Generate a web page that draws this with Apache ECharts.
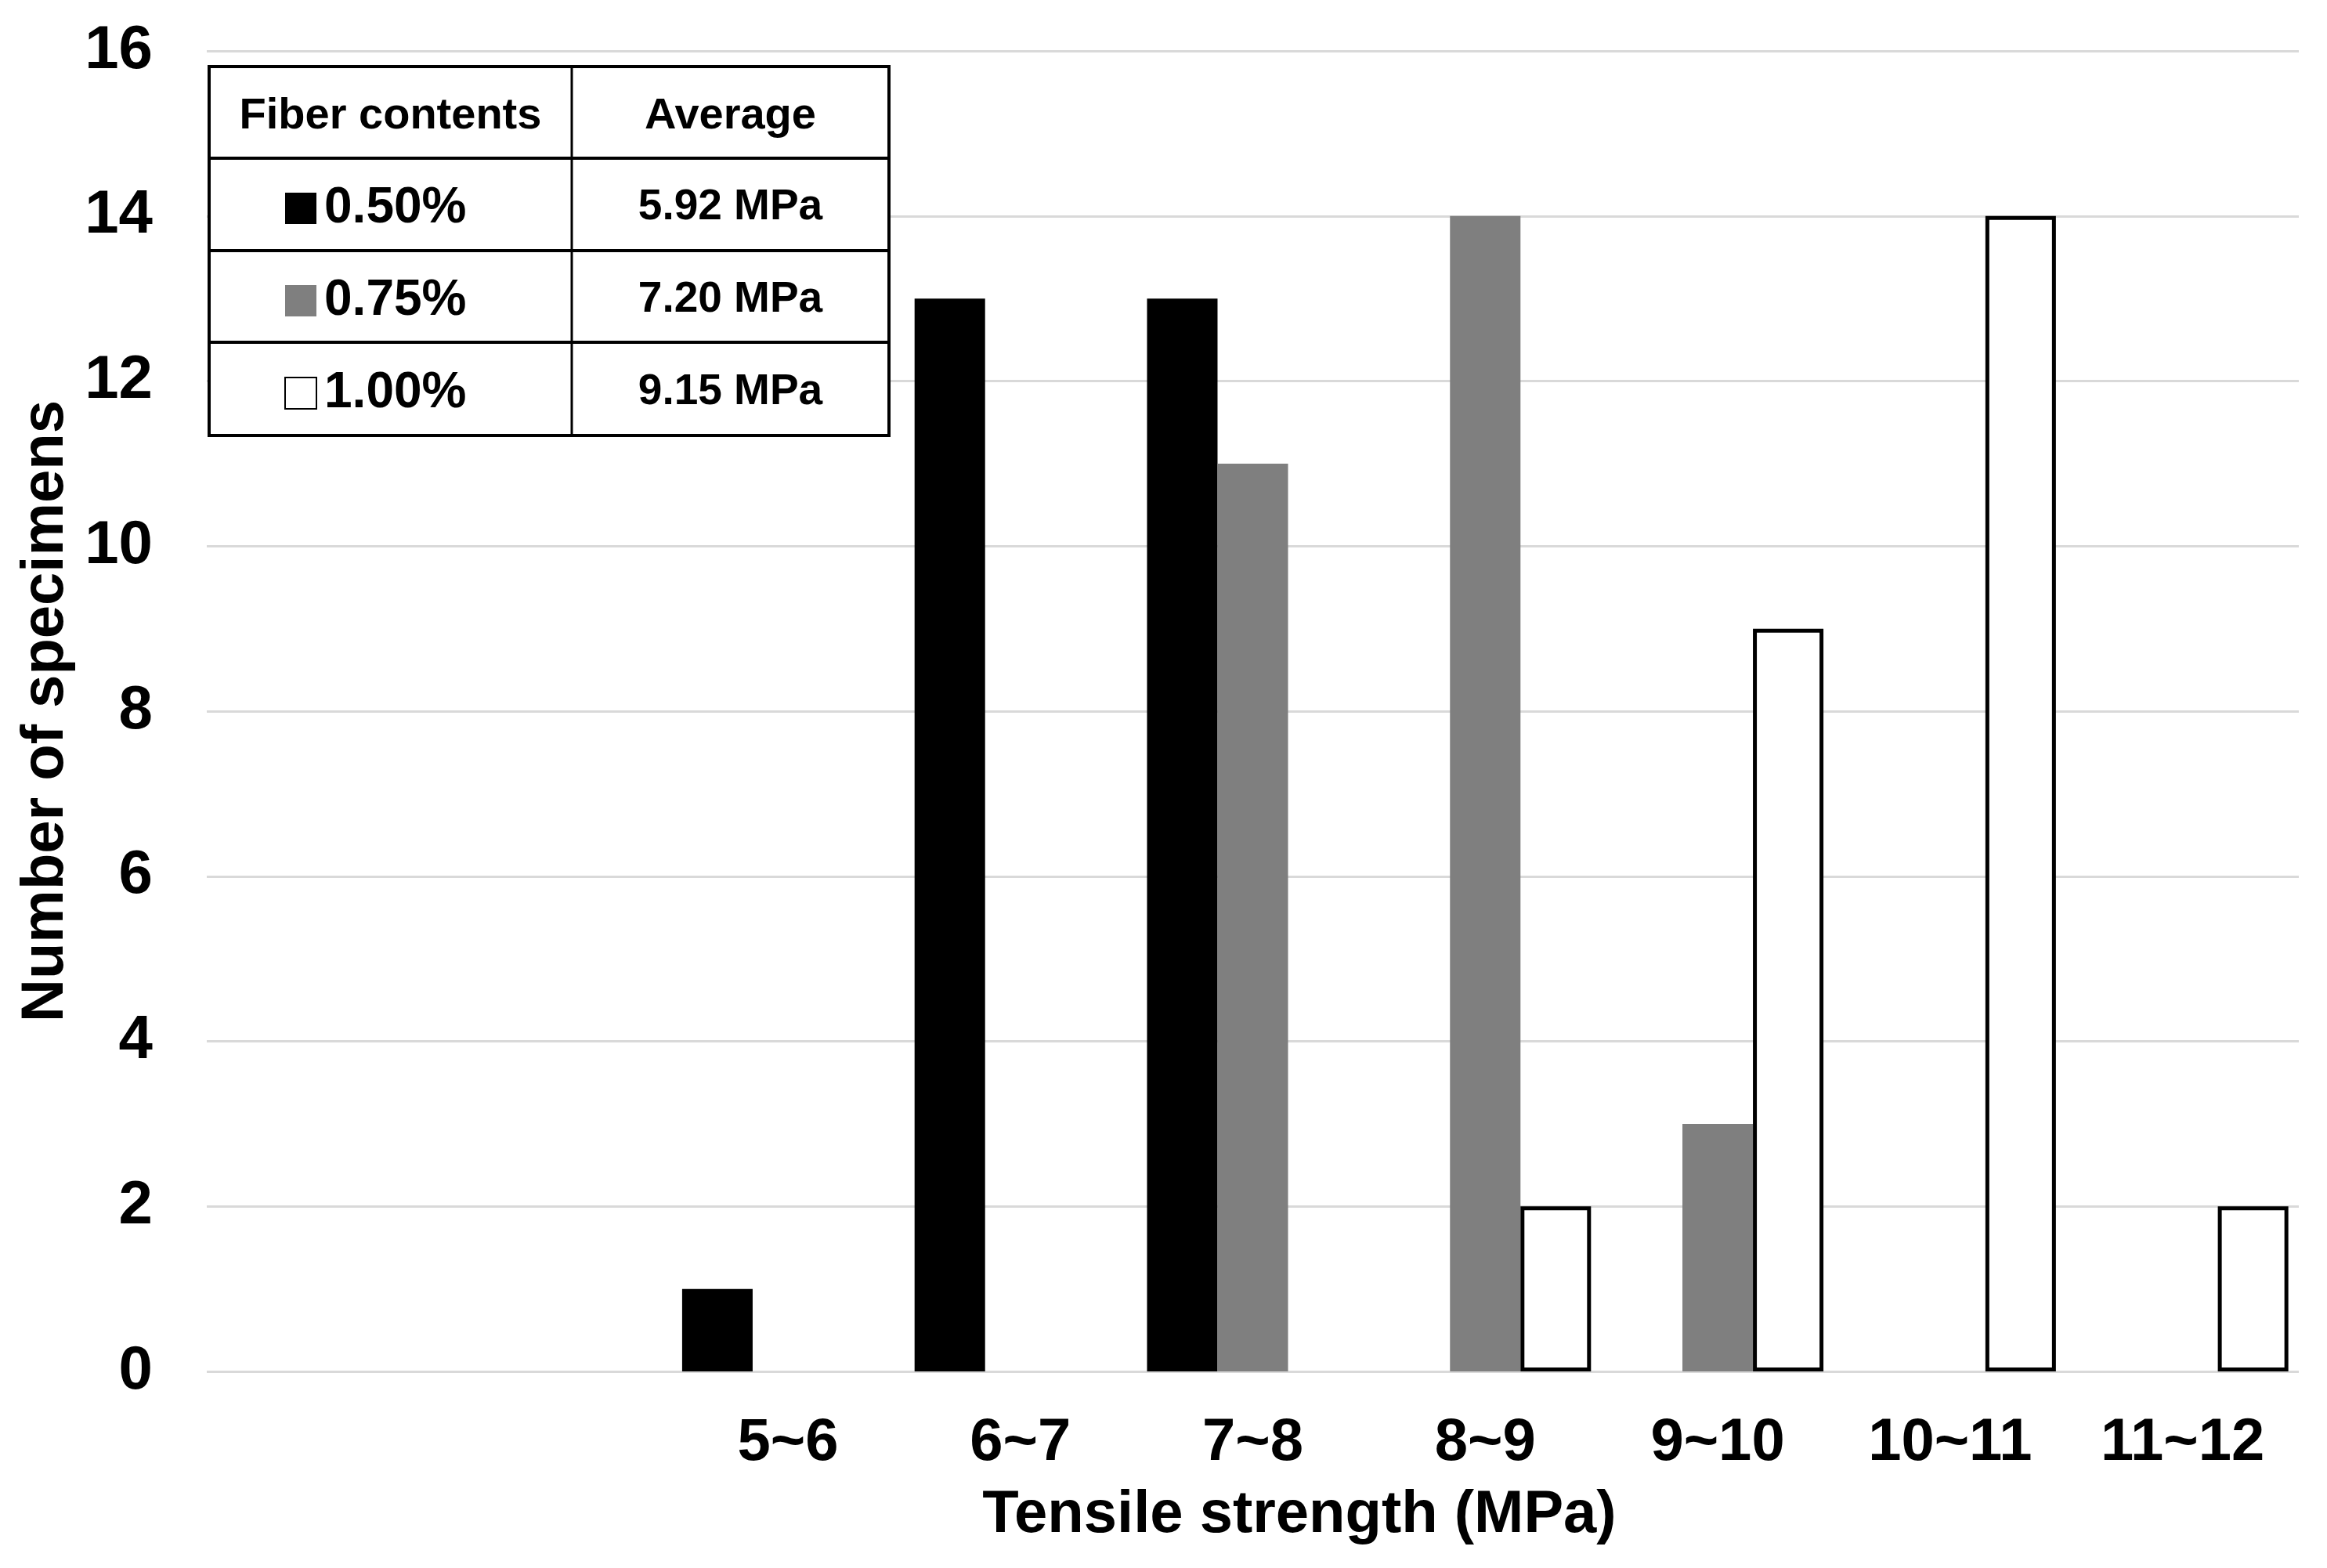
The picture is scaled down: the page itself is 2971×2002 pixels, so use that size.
<!DOCTYPE html>
<html><head><meta charset="utf-8">
<script src="https://cdn.jsdelivr.net/npm/echarts@6/dist/echarts.min.js"></script>
<style>html,body{margin:0;padding:0;background:#fff}#c{width:2971px;height:2002px}</style>
</head><body><div id="c"></div>
<script>
// ---- data ----
const categories = ['', ' ', '5~6', '6~7', '7~8', '8~9', '9~10', '10~11', '11~12'];
const seriesNames = ['0.50%', '0.75%', '1.00%'];
const fiber050 = [0, 0, 1, 13, 13, 0, 0, 0, 0];
const fiber075 = [0, 0, 0, 0, 11, 14, 3, 0, 0];
const fiber100 = [0, 0, 0, 0, 0, 2, 9, 14, 2];
const averages = ['5.92 MPa', '7.20 MPa', '9.15 MPa'];
const tableHeaders = ['Fiber contents', 'Average'];
const yMin = 0, yMax = 16, yStep = 2;
const xTitle = 'Tensile strength (MPa)';
const yTitle = 'Number of specimens';

// ---- chart ----
const FONT = '"Liberation Sans", Arial, Helvetica, sans-serif';
const chart = echarts.init(document.getElementById('c'), null, {renderer: 'canvas'});
const noZero = arr => arr.map(v => v === 0 ? '-' : v);

const tbl = {x: 267, y: 85, w: 868, rows: [85, 202, 320, 437, 556], colX: 730};
const graphics = [];
graphics.push({type: 'rect', z: 10, shape: {x: tbl.x, y: tbl.y, width: tbl.w, height: tbl.rows[4] - tbl.rows[0]},
  style: {fill: '#fff', stroke: '#000', lineWidth: 4}});
for (let i = 1; i < 4; i++) {
  graphics.push({type: 'line', z: 11, shape: {x1: tbl.x, y1: tbl.rows[i], x2: tbl.x + tbl.w, y2: tbl.rows[i]},
    style: {stroke: '#000', lineWidth: 4}});
}
graphics.push({type: 'line', z: 11, shape: {x1: tbl.colX, y1: tbl.rows[0], x2: tbl.colX, y2: tbl.rows[4]},
  style: {stroke: '#000', lineWidth: 3}});
const c1 = (tbl.x + tbl.colX) / 2, c2 = (tbl.colX + tbl.x + tbl.w) / 2;
graphics.push({type: 'text', z: 12, x: c1, y: (tbl.rows[0] + tbl.rows[1]) / 2 + 5,
  style: {text: tableHeaders[0], font: 'bold 56px ' + FONT, fill: '#000', align: 'center', verticalAlign: 'middle'}});
graphics.push({type: 'text', z: 12, x: c2, y: (tbl.rows[0] + tbl.rows[1]) / 2 + 5,
  style: {text: tableHeaders[1], font: 'bold 56px ' + FONT, fill: '#000', align: 'center', verticalAlign: 'middle'}});
averages.forEach((a, i) => {
  graphics.push({type: 'text', z: 12, x: c2, y: (tbl.rows[i + 1] + tbl.rows[i + 2]) / 2 + 4,
    style: {text: a, font: 'bold 55px ' + FONT, fill: '#000', align: 'center', verticalAlign: 'middle'}});
});

const option = {
  backgroundColor: '#fff',
  animation: false,
  textStyle: {fontFamily: FONT},
  grid: {left: 264, right: 36, top: 65, bottom: 251},
  legend: {
    orient: 'vertical', left: 363, top: 234, z: 20, padding: 0,
    itemWidth: 40, itemHeight: 40, itemGap: 54,
    data: seriesNames,
    textStyle: {fontSize: 64, fontWeight: 'bold', color: '#000', fontFamily: FONT, lineHeight: 64, padding: [0, 0, 0, 5]},
    icon: 'rect'
  },
  xAxis: {
    type: 'category', data: categories,
    axisLine: {show: false}, axisTick: {show: false},
    axisLabel: {interval: 0, margin: 54, fontSize: 76, fontWeight: 'bold', color: '#000', fontFamily: FONT},
    name: xTitle, nameLocation: 'middle', nameGap: 146,
    nameTextStyle: {fontSize: 76, fontWeight: 'bold', color: '#000', fontFamily: FONT, padding: [0, 0, 0, 119]}
  },
  yAxis: {
    type: 'value', min: yMin, max: yMax, interval: yStep,
    axisLine: {show: false}, axisTick: {show: false},
    splitLine: {lineStyle: {color: '#d9d9d9', width: 3}},
    axisLabel: {margin: 69, fontSize: 78, fontWeight: 'bold', color: '#000', fontFamily: FONT},
    name: yTitle, nameLocation: 'middle', nameGap: 163, nameRotate: 90,
    nameTextStyle: {fontSize: 76, fontWeight: 'bold', color: '#000', fontFamily: FONT}
  },
  series: [
    {name: seriesNames[0], type: 'bar', data: noZero(fiber050), barGap: '0%', barCategoryGap: '9%',
      itemStyle: {color: '#000000'}},
    {name: seriesNames[1], type: 'bar', data: noZero(fiber075), barGap: '0%', barCategoryGap: '9%',
      itemStyle: {color: '#7f7f7f'}},
    {name: seriesNames[2], type: 'bar', data: noZero(fiber100), barGap: '0%', barCategoryGap: '9%',
      itemStyle: {color: '#ffffff', borderColor: '#000000', borderWidth: 5}}
  ],
  graphic: graphics
};
chart.setOption(option);
</script></body></html>
